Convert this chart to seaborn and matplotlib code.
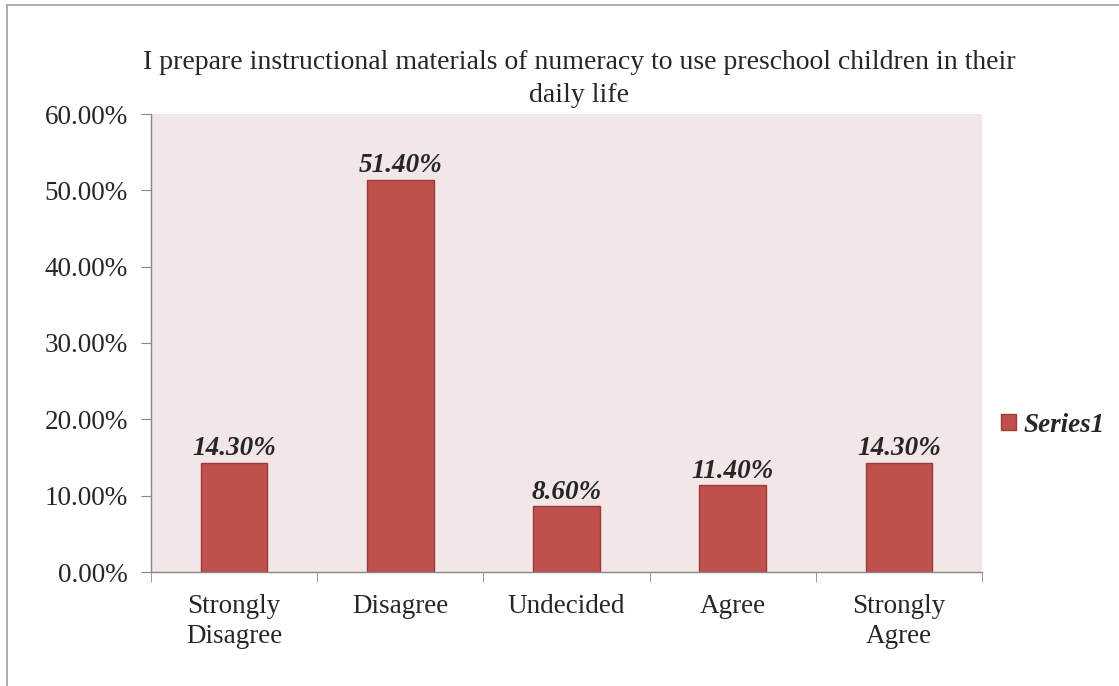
import matplotlib
matplotlib.use('Agg')
import matplotlib.pyplot as plt
import seaborn as sns
from matplotlib.patches import Patch, Rectangle
from matplotlib.ticker import PercentFormatter

# Data
categories = ['Strongly\nDisagree', 'Disagree', 'Undecided', 'Agree', 'Strongly\nAgree']
values = [0.143, 0.514, 0.086, 0.114, 0.143]
labels = ['14.30%', '51.40%', '8.60%', '11.40%', '14.30%']
series_name = 'Series1'
title = 'I prepare instructional materials of numeracy to use preschool children in their\ndaily life'

sns.set_style('white')
plt.rcParams['font.family'] = ['Liberation Serif', 'DejaVu Serif']

bar_color = '#C0504D'
edge_color = '#9A3C3A'

fig = plt.figure(figsize=(11.19, 6.86), dpi=100)
ax = fig.add_axes([151 / 1119, 1 - 572 / 686, (982 - 151) / 1119, (572 - 114) / 686])
ax.set_facecolor('#F2E6E6')

sns.barplot(x=categories, y=values, color=bar_color, saturation=1, width=0.4,
            edgecolor=edge_color, linewidth=1, ax=ax)

for i, (v, lab) in enumerate(zip(values, labels)):
    ax.annotate(lab, (i, v), xytext=(0, 1), textcoords='offset points',
                ha='center', va='bottom', fontsize=19.5, fontweight='bold', fontstyle='italic')

ax.set_ylim(0, 0.6)
ax.set_xlim(-0.5, 4.5)
ax.set_yticks([0, 0.1, 0.2, 0.3, 0.4, 0.5, 0.6])
ax.yaxis.set_major_formatter(PercentFormatter(1.0, decimals=2))
ax.set_xticks([i - 0.5 for i in range(6)], minor=True)
ax.tick_params(axis='x', which='major', length=0, pad=16, labelsize=19.5)
ax.tick_params(axis='x', which='minor', length=7, color='#888888', direction='out', bottom=True)
ax.tick_params(axis='y', length=7, color='#888888', direction='out', left=True, pad=9.5, labelsize=19.5)
for t in ax.get_xticklabels():
    t.set_linespacing(1.25)
ax.set_xlabel('')
ax.set_ylabel('')

for s in ['top', 'right']:
    ax.spines[s].set_visible(False)
for s in ['left', 'bottom']:
    ax.spines[s].set_color('#888888')
    ax.spines[s].set_linewidth(1)

fig.text(579 / 1119, 1 - 79 / 686, title, ha='center', va='center', fontsize=20,
         linespacing=1.45)

handle = Patch(facecolor=bar_color, edgecolor=edge_color)
fig.legend([handle], [series_name], loc='center left', bbox_to_anchor=(977 / 1119, 1 - 425 / 686),
           frameon=False, handlelength=0.55, handleheight=0.55, handletextpad=0.25,
           prop={'size': 19.5, 'weight': 'bold', 'style': 'italic'})

fig.add_artist(Rectangle((7 / 1119, -0.05), 1.1, 1 - 5 / 686 + 0.05, transform=fig.transFigure,
                         fill=False, edgecolor='#A0A0A0', linewidth=1.2))

fig.savefig('out.png', dpi=100)
